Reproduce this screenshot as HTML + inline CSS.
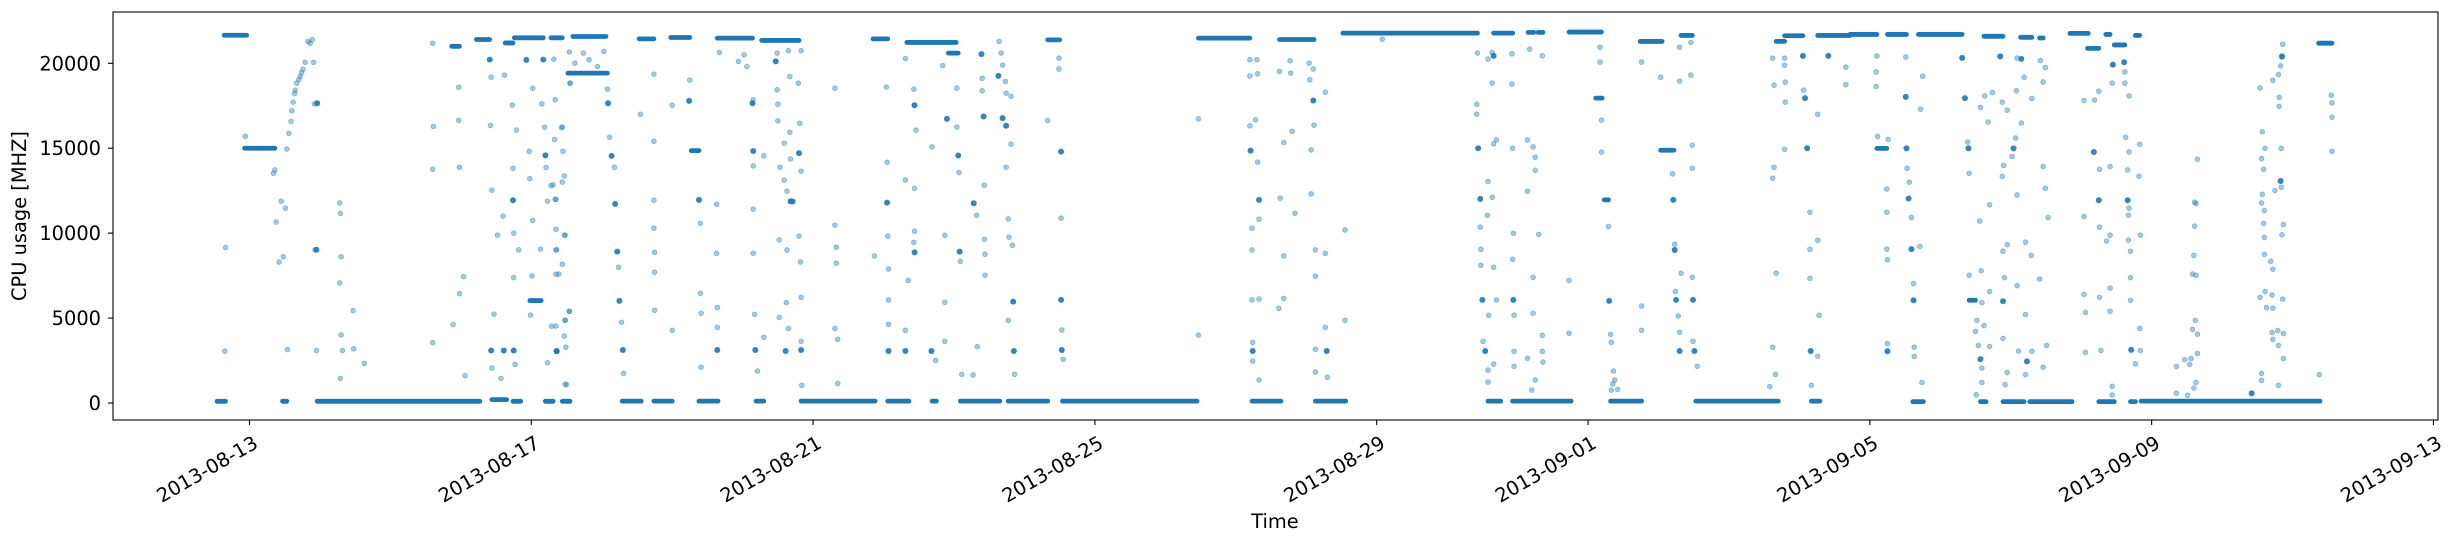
<!DOCTYPE html>
<html><head><meta charset="utf-8"><title>CPU usage</title>
<style>
html,body{margin:0;padding:0;background:#fff;}
svg{display:block;font-family:"DejaVu Sans","Liberation Sans",sans-serif;}
</style></head>
<body>
<svg id="chart" width="2450" height="544" viewBox="0 0 2450 544" xmlns="http://www.w3.org/2000/svg">
<rect x="0" y="0" width="2450" height="544" fill="#fff"/>
<g id="marks"></g>
<rect x="113" y="12" width="2325" height="408" fill="none" stroke="#000" stroke-width="1.1"/>
<g id="yaxis"></g>
<g id="xaxis"></g>
<text transform="translate(26,216) rotate(-90)" text-anchor="middle" font-size="19.4">CPU usage [MHZ]</text>
<text x="1275" y="528" text-anchor="middle" font-size="19.4">Time</text>
</svg>
<script>
// Time in days since 2013-08-13 00:00
const xTickDays = [0,4,8,12,16,19,23,27,31];
const xTickLabels = ["2013-08-13","2013-08-17","2013-08-21","2013-08-25","2013-08-29","2013-09-01","2013-09-05","2013-09-09","2013-09-13"];
const yTickValues = [0,5000,10000,15000,20000];
const yTickLabels = ["0","5000","10000","15000","20000"];

// Dense runs of samples: [startDay, endDay, MHz]
const bandStart = [-0.46,-0.36,-0.07,0.47,0.96,3.44,2.87,3.22,3.63,3.76,4.28,3.74,4.20,4.44,4.52,4.59,
 5.29,5.74,6.38,7.19,7.83,9.06,9.69,10.09,10.77,11.54,
 5.53,5.98,6.64,7.27,8.85,9.33,9.92,11.33,
 13.47,14.62,15.52,17.66,18.15,18.29,18.73,19.74,20.32,21.67,21.79,22.26,
 14.23,15.13,17.58,17.93,19.32,20.53,22.17,
 22.72,23.25,23.69,24.62,25.14,25.41,25.84,26.35,26.09,26.47,26.77,29.37,
 23.61,24.89,25.27,26.25,26.70,26.85,24.57,
 3.98,6.27,19.11,19.23,20.03,24.41,23.10];
const bandEnd = [-0.34,-0.04,0.36,0.53,3.27,3.65,2.98,3.41,3.74,4.17,4.44,3.85,4.31,4.55,5.08,5.06,
 5.56,6.00,6.65,7.30,8.88,9.36,9.75,10.65,11.33,13.45,
 5.74,6.25,7.14,7.80,9.06,10.03,10.06,11.50,
 14.20,15.11,17.43,17.93,18.23,18.36,19.19,20.05,20.48,21.79,22.05,22.72,
 14.64,15.56,17.76,18.76,19.76,21.70,22.29,
 23.10,23.52,24.31,24.89,25.30,25.46,26.10,26.41,26.25,26.62,26.83,29.56,
 23.76,25.19,25.87,26.47,26.77,29.39,24.65,
 4.14,6.38,19.20,19.29,20.22,24.50,23.24];
const bandValue = [100,21650,15000,100,100,200,21000,21400,21200,21500,21500,100,100,100,19420,21580,
 110,110,110,110,110,110,110,110,110,110,
 21440,21520,21480,21345,21440,21227,20600,21380,
 21480,21400,21777,21777,21820,21820,21840,21286,21640,21290,21620,21640,
 110,110,110,110,110,110,110,
 21700,21700,21700,21590,21530,21490,21760,21700,20880,21080,21640,21185,
 80,80,80,80,80,110,80,
 6030,14860,17950,11960,14880,6050,14990];

// Repeated-sample clusters: [day, MHz]
const clusterPoints = [[3.41,20220],[3.43,3090],[3.74,11940],[3.93,20200],[4.17,20220],[4.36,3050],[4.20,14580],[3.61,3090],[0.95,9020],[0.96,17650],[3.75,3090],
[5.09,17650],[5.14,14550],[5.19,11720],[5.22,8910],[5.25,6010],[5.30,3120],[6.24,17790],[6.38,11960],[7.14,17650],[7.47,20110],[7.71,11860],[7.80,14710],[9.90,16730],[10.06,14570],[10.08,8910],[10.28,11760],[10.42,16870],[10.39,20540],[10.63,19260],[10.69,16770],[10.74,16320],[11.52,14800],[11.52,6070],[11.53,3120],[9.44,17530],[9.44,8870],[9.68,3060],[9.31,3060],[9.07,3060],[9.05,11800],[7.61,3060],[7.18,3120],[6.64,3120],[4.36,3060],[10.84,5970],[10.85,3060],[7.83,3120],[7.15,14840],[7.68,11880],
[14.21,14860],[14.33,11960],[14.24,3060],[15.10,17810],[15.29,3060],[17.44,15000],[17.47,12020],[17.50,6070],[17.54,3060],[17.66,20440],[17.94,6070],[19.30,6010],[20.21,11960],[20.23,9010],[20.25,6070],[20.30,3060],[20.51,3060],[20.49,6070],[22.05,20440],[22.08,17950],[22.11,15000],[22.16,3060],[22.41,20440],
[24.31,20320],[24.35,17950],[24.40,14990],[24.57,2580],[23.25,3050],[23.51,18020],[23.52,14990],[23.55,12040],[23.59,9060],[23.62,6050],[24.85,20410],[24.89,5990],[25.04,14990],[25.15,20260],[25.23,2450],[26.18,14780],[26.25,11940],[26.45,19920],[26.61,20060],[26.66,11940],[26.71,3130],[28.42,570],[28.83,13070],[28.85,20410]];

// Individual samples: [day, MHz]
const samplePoints = [
[0.34,13520],[0.36,13720],[0.38,10650],[0.42,8300],[0.45,11880],[0.48,8610],[0.51,11470],[0.53,14950],[0.56,15870],[0.59,16580],[0.60,17200],[0.62,17710],[0.64,18220],[0.65,18420],[0.67,18830],[0.70,19040],[0.72,19240],[0.74,19450],[0.76,19650],[0.79,20060],[0.83,21290],[0.86,21180],[0.89,21390],[0.91,20060],[0.92,17610],[0.93,9020],[0.95,3090],
[-0.34,9160],[-0.35,3050],[-0.06,15700],[0.54,3150],[1.28,11780],[1.29,11160],[1.30,8610],[1.28,7070],[1.30,4010],[1.47,5440],[1.32,3090],[1.48,3190],[1.63,2330],[1.29,1450],[2.60,21180],[2.61,16280],[2.60,13760],[2.60,3560],[2.89,4620],[3.04,7440],[2.97,18590],[2.97,16640],[2.98,13880],[2.98,6440],[3.06,1610],[3.42,16340],[3.44,12530],[3.43,19180],[3.47,5230],[3.52,9880],[3.60,11000],[3.62,19300],[3.73,17540],[3.74,13820],[3.75,10000],[3.75,7380],[3.79,16070],[3.82,9020],[3.97,14820],[3.98,13210],[3.99,5170],[4.02,10750],[4.01,7480],[4.02,18530],[4.13,9060],[4.15,17610],[4.19,16240],[4.21,13860],[4.23,11880],[4.28,12800],[4.29,4520],[4.33,15520],[4.35,11980],[4.36,9020],[4.39,7590],[4.43,16220],[4.44,13000],[4.47,9880],[4.48,4870],[4.49,3290],[4.50,1080],[4.54,5400],[4.55,18830],[4.54,20670],[3.44,2060],[3.57,1450],[3.77,2270],[4.23,2370],
[4.32,20240],[4.34,17850],[4.44,16240],[4.45,14820],[4.31,12840],[4.47,13370],[4.34,12000],[4.35,10230],[4.48,9880],[4.35,9010],[4.44,8170],[4.35,7580],[4.54,5400],[4.48,4870],[4.35,4530],[4.47,3940],[4.48,1110],[4.55,18830],[4.62,20010],[4.74,20600],[4.82,20210],[4.94,19810],[5.03,20700],[5.08,18480],[5.11,15650],[5.18,13880],[5.24,7990],[5.28,4750],[5.31,1740],[5.55,17000],[5.74,19360],[5.74,15410],[5.74,11940],[5.74,10290],[5.75,8870],[5.75,7700],[5.75,5460],[6.00,17530],[6.00,4280],[6.25,19010],[6.40,10580],[6.40,6460],[6.41,5280],[6.41,2100],[6.63,11700],[6.63,8810],[6.64,5630],[6.64,4450],[6.67,20640],[6.94,20110],[7.02,20500],[7.06,19810],[7.15,17850],[7.15,13960],[7.15,11410],[7.15,8810],[7.17,5220],[7.21,1880],[7.30,14550],[7.30,3870],[7.49,18440],[7.50,17590],[7.50,16610],[7.53,13880],[7.59,15300],[7.59,13120],[7.63,12470],[7.52,9600],[7.63,9010],[7.80,9820],[7.82,8300],[7.52,5040],[7.62,5910],[7.65,4390],[7.83,3630],[7.84,1040],[7.83,6220],[7.67,19220],[7.79,18830],[7.81,16470],[7.67,15940],[7.68,14370],[7.83,13650],[7.49,20600],[7.65,20740],[7.83,20740],[8.31,18540],[8.31,10470],[8.33,9170],[8.33,8230],[8.31,4390],[8.35,3750],[8.35,1150],[9.04,18600],[9.05,14170],[9.06,9820],[9.07,7890],[9.07,6070],[9.07,4630],[8.87,8660],[9.31,20280],[9.43,18480],[9.31,13130],[9.44,12640],[9.46,16060],[9.44,10110],[9.43,9460],[9.31,4280],[9.35,7220],[9.69,15080],[9.87,9870],[9.87,5930],[9.87,3630],[9.74,2510],[9.84,19870],[10.04,18540],[10.04,16240],[10.07,13570],[10.09,8340],[10.11,1690],[10.27,1650],[10.32,11050],[10.33,3315],[10.43,12820],[10.43,9640],[10.44,8760],[10.44,7520],[10.40,19120],[10.40,18380],[10.64,21290],[10.67,20600],[10.69,19890],[10.73,18930],[10.74,18240],[10.81,18060],[10.81,15240],[10.74,13880],[10.77,10840],[10.78,9760],[10.83,9290],[10.77,4870],[10.86,1690],[11.33,16630],[11.49,20300],[11.49,19660],[11.52,10880],[11.53,4300],[11.55,2570],[13.47,16730],[13.47,4000],
[14.20,20210],[14.30,20210],[14.20,19260],[14.31,19380],[14.20,16320],[14.28,16670],[14.31,14180],[14.33,10820],[14.23,10290],[14.23,9010],[14.23,6070],[14.33,6120],[14.24,3570],[14.24,2470],[14.33,1350],[14.62,19520],[14.77,20150],[14.78,19420],[14.80,16000],[14.68,15335],[14.84,11170],[14.63,12060],[14.68,8660],[14.68,6160],[14.61,5570],[15.04,20010],[15.10,19660],[15.05,19030],[15.27,18300],[15.11,16360],[15.07,14900],[15.07,12310],[15.13,9010],[15.27,8810],[15.13,7460],[15.27,4450],[15.13,3160],[15.13,1820],[15.30,1510],[15.55,10190],[15.55,4870],[16.08,21420],[17.43,20600],[17.42,17590],[17.42,17000],[17.64,20640],[17.58,20250],[17.64,18830],[17.70,15490],[17.66,15260],[17.58,13040],[17.64,12110],[17.57,11050],[17.47,10350],[17.48,9050],[17.48,8110],[17.66,7990],[17.70,6070],[17.59,5160],[17.51,3630],[17.58,1940],[17.66,2290],[17.58,1230],[17.92,20560],[17.92,18770],[17.93,15000],[17.94,9990],[17.93,8460],[17.95,5160],[17.95,3040],[17.95,2160],[18.14,15490],[18.22,15080],[18.25,14470],[18.25,13700],[18.14,12470],[18.30,9930],[18.22,7400],[18.22,5280],[18.35,3980],[18.35,3040],[18.36,2410],[18.14,2630],[18.25,1350],[18.20,760],[18.35,20440],[18.17,20830],[18.73,7220],[18.73,4100],[19.17,20950],[19.17,20070],[19.19,16650],[19.19,14770],[19.29,10390],[19.32,4040],[19.33,3570],[19.36,1880],[19.38,1350],[19.35,1120],[19.33,760],[19.42,800],[19.76,20070],[19.76,5710],[19.76,4280],[20.03,19180],[20.20,13490],[20.23,9350],[20.32,7640],[20.24,6560],[20.28,5120],[20.30,4160],[20.49,3630],[20.55,2160],[20.48,7400],[20.48,13820],[20.48,15180],[20.46,19300],[20.30,18950],[20.30,20950],[20.46,21230],[21.62,20300],[21.64,18710],[21.64,13880],[21.62,13230],[21.67,7640],[21.62,3280],[21.66,1690],[21.58,960],[21.79,20300],[21.79,19890],[21.80,18890],[21.80,17710],[21.79,14940],[22.15,11230],[22.26,9580],[22.15,9050],[22.15,7340],[22.28,5160],[22.26,2750],[22.17,1040],[22.26,17000],[22.66,19770],[22.66,18750],[22.06,18420],
[23.10,20430],[23.09,19490],[23.09,18630],[23.11,15700],[23.26,15520],[23.24,12600],[23.24,11230],[23.24,9060],[23.25,8440],[23.25,3500],[23.53,13820],[23.56,13000],[23.59,10920],[23.71,9220],[23.62,7030],[23.63,3290],[23.63,2740],[23.74,1210],[23.72,17300],[23.75,19240],[23.51,20370],[24.39,15360],[24.41,13520],[24.56,10710],[24.41,7520],[24.58,7790],[24.59,5910],[24.52,4860],[24.62,4560],[24.50,4210],[24.54,3390],[24.59,2060],[24.59,1210],[24.51,490],[24.70,6560],[24.70,3330],[24.68,16540],[24.57,17400],[24.63,18080],[24.74,18280],[24.88,17710],[24.95,17240],[24.70,11670],[24.90,13990],[24.88,13350],[24.89,3800],[24.91,7380],[24.89,8930],[24.95,9320],[24.92,1080],[24.95,1800],[25.07,15600],[25.02,14520],[25.09,12250],[25.09,6910],[25.21,5210],[25.21,9470],[25.29,8690],[25.21,1670],[25.11,3050],[25.30,3050],[25.46,13920],[25.49,12640],[25.53,10920],[25.46,2100],[25.41,7300],[25.51,3390],[25.46,18900],[25.42,20160],[25.49,19750],[25.30,17930],[25.19,19180],[25.15,16480],[25.08,18380],[25.09,20300],[26.04,17810],[26.19,17830],[26.25,18360],[26.26,13760],[26.41,13920],[26.04,10980],[26.26,10350],[26.36,9530],[26.41,9880],[26.04,6400],[26.26,6220],[26.06,5340],[26.41,6770],[26.41,5400],[26.06,2980],[26.28,3090],[26.44,980],[26.44,470],[26.44,18830],[26.62,18830],[26.62,19490],[26.68,18080],[26.63,15640],[26.68,14780],[26.66,13720],[26.83,15230],[26.82,13350],[26.68,11470],[26.67,11060],[26.67,9590],[26.70,8930],[26.70,7380],[26.84,9880],[26.70,6050],[26.83,4390],[26.84,3090],[26.77,2310],[28.54,18550],[28.57,15970],[28.61,14990],[28.56,14390],[28.59,13760],[28.57,12290],[28.56,11780],[28.60,11330],[28.59,10570],[28.60,9750],[28.60,8750],[28.69,8340],[28.72,7870],[28.61,6560],[28.54,6220],[28.71,6360],[28.63,5620],[28.72,5580],[28.86,6110],[28.71,4150],[28.79,4270],[28.87,4090],[28.72,3740],[28.80,3390],[28.87,2620],[28.56,1740],[28.56,1330],[28.80,1040],[28.85,9900],[28.87,10510],[28.75,12510],[28.84,12700],[28.84,14990],[28.81,17460],[28.81,17990],[28.80,19340],[28.83,19850],[28.85,20370],[28.86,21120],[28.72,19000],[29.55,18120],[29.56,17670],[29.56,16830],[29.56,14820],[29.38,1670],[27.65,14350],[27.61,11820],[27.63,11740],[27.61,10410],[27.60,8690],[27.58,7590],[27.63,7520],[27.62,4860],[27.58,4330],[27.65,4050],[27.65,2920],[27.56,2620],[27.47,2550],[27.54,2270],[27.35,2150],[27.63,1210],[27.60,880],[27.35,570],[27.51,450]
];

const plotL = 113, plotR = 2438, plotT = 12, plotB = 420;
const xDay0 = 249.5, pxPerDay = 70.45;
const y0px = 403, pxPerMHz = 0.016985;
function xScale(d){ return xDay0 + d * pxPerDay; }
function yScale(v){ return y0px - v * pxPerMHz; }
const NS = "http://www.w3.org/2000/svg";
const COLOR = "#1f77b4";

const marks = document.getElementById("marks");
for (let i = 0; i < bandStart.length; i++) {
  const ln = document.createElementNS(NS, "line");
  ln.setAttribute("x1", xScale(bandStart[i]));
  ln.setAttribute("x2", xScale(bandEnd[i]));
  ln.setAttribute("y1", yScale(bandValue[i]));
  ln.setAttribute("y2", yScale(bandValue[i]));
  ln.setAttribute("stroke", COLOR);
  ln.setAttribute("stroke-width", "4.8");
  ln.setAttribute("stroke-linecap", "round");
  
  
  marks.appendChild(ln);
}
for (const p of samplePoints) {
  const c = document.createElementNS(NS, "circle");
  c.setAttribute("cx", xScale(p[0]));
  c.setAttribute("cy", yScale(p[1]));
  c.setAttribute("r", "2.4");
  c.setAttribute("fill", COLOR);
  c.setAttribute("fill-opacity", "0.4");
  c.setAttribute("stroke", COLOR);
  c.setAttribute("stroke-opacity", "0.45");
  c.setAttribute("stroke-width", "0.8");
  
  
  marks.appendChild(c);
}
for (const p of clusterPoints) {
  const c = document.createElementNS(NS, "circle");
  c.setAttribute("cx", xScale(p[0]));
  c.setAttribute("cy", yScale(p[1]));
  c.setAttribute("r", "3");
  c.setAttribute("fill", COLOR);
  c.setAttribute("fill-opacity", "0.9");
  
  
  marks.appendChild(c);
}

const yaxis = document.getElementById("yaxis");
yTickValues.forEach((v, i) => {
  const y = yScale(v);
  const t = document.createElementNS(NS, "line");
  t.setAttribute("x1", plotL - 5); t.setAttribute("x2", plotL);
  t.setAttribute("y1", y); t.setAttribute("y2", y);
  t.setAttribute("stroke", "#000"); t.setAttribute("stroke-width", "1.1");
  
  
  yaxis.appendChild(t);
  const tx = document.createElementNS(NS, "text");
  tx.setAttribute("x", plotL - 12); tx.setAttribute("y", y + 7);
  tx.setAttribute("text-anchor", "end"); tx.setAttribute("font-size", "19.4");
  tx.textContent = yTickLabels[i];
  
  
  yaxis.appendChild(tx);
});
const xaxis = document.getElementById("xaxis");
xTickDays.forEach((d, i) => {
  const x = xScale(d);
  const t = document.createElementNS(NS, "line");
  t.setAttribute("x1", x); t.setAttribute("x2", x);
  t.setAttribute("y1", plotB); t.setAttribute("y2", plotB + 5);
  t.setAttribute("stroke", "#000"); t.setAttribute("stroke-width", "1.1");
  
  
  xaxis.appendChild(t);
  const tx = document.createElementNS(NS, "text");
  tx.setAttribute("transform", "translate(" + (x + 3) + "," + (plotB + 15) + ") rotate(-30)");
  tx.setAttribute("text-anchor", "end"); tx.setAttribute("font-size", "19.4");
  tx.setAttribute("dy", "0.7em");
  tx.textContent = xTickLabels[i];
  
  
  xaxis.appendChild(tx);
});
</script>
</body></html>
